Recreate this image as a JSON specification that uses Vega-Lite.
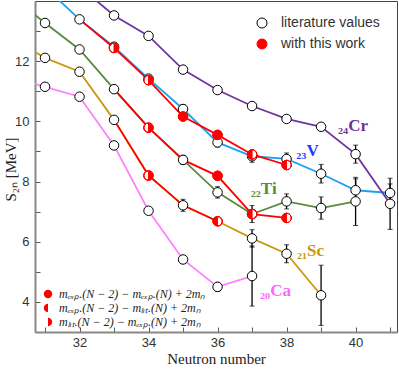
{
  "$schema": "https://vega.github.io/schema/vega-lite/v6.json",
  "width": 362,
  "height": 331,
  "autosize": "none",
  "padding": {"left": 35, "top": 1, "right": 2, "bottom": 43},
  "background": "white",
  "config": {
    "view": {"stroke": "#444", "strokeWidth": 1},
    "axis": {
      "grid": false,
      "domainColor": "#888",
      "domainWidth": 2,
      "tickColor": "#555",
      "tickSize": -5,
      "tickWidth": 1,
      "labelFont": "Liberation Sans",
      "labelFontSize": 13,
      "labelColor": "#333",
      "titleFont": "Liberation Serif",
      "titleFontSize": 15,
      "titleFontWeight": "normal",
      "titleColor": "#222"
    }
  },
  "datasets": {
    "lines": [
      {"series": "Ca", "N": 30, "S": 11.47}, {"series": "Ca", "N": 31, "S": 11.15}, {"series": "Ca", "N": 32, "S": 10.82}, {"series": "Ca", "N": 33, "S": 9.2}, {"series": "Ca", "N": 34, "S": 7.03}, {"series": "Ca", "N": 35, "S": 5.41}, {"series": "Ca", "N": 36, "S": 4.5}, {"series": "Ca", "N": 37, "S": 4.86},
      {"series": "Sc", "N": 30, "S": 12.79}, {"series": "Sc", "N": 31, "S": 12.11}, {"series": "Sc", "N": 32, "S": 11.65}, {"series": "Sc", "N": 33, "S": 10.05}, {"series": "Sc", "N": 34, "S": 8.2}, {"series": "Sc", "N": 35, "S": 7.21}, {"series": "Sc", "N": 36, "S": 6.68}, {"series": "Sc", "N": 37, "S": 6.11}, {"series": "Sc", "N": 38, "S": 5.6}, {"series": "Sc", "N": 39, "S": 4.22},
      {"series": "Ti", "N": 30, "S": 14.2}, {"series": "Ti", "N": 31, "S": 13.27}, {"series": "Ti", "N": 32, "S": 12.39}, {"series": "Ti", "N": 33, "S": 11.07}, {"series": "Ti", "N": 34, "S": 9.79}, {"series": "Ti", "N": 35, "S": 8.72}, {"series": "Ti", "N": 36, "S": 7.64}, {"series": "Ti", "N": 37, "S": 6.92}, {"series": "Ti", "N": 38, "S": 7.34}, {"series": "Ti", "N": 39, "S": 7.12}, {"series": "Ti", "N": 40, "S": 7.34},
      {"series": "V", "N": 31, "S": 14.46}, {"series": "V", "N": 32, "S": 13.39}, {"series": "V", "N": 33, "S": 12.48}, {"series": "V", "N": 34, "S": 11.42}, {"series": "V", "N": 35, "S": 10.41}, {"series": "V", "N": 36, "S": 9.3}, {"series": "V", "N": 37, "S": 8.84}, {"series": "V", "N": 38, "S": 8.75}, {"series": "V", "N": 39, "S": 8.26}, {"series": "V", "N": 40, "S": 7.71}, {"series": "V", "N": 41, "S": 7.62},
      {"series": "Cr", "N": 32, "S": 14.48}, {"series": "Cr", "N": 33, "S": 13.52}, {"series": "Cr", "N": 34, "S": 12.84}, {"series": "Cr", "N": 35, "S": 11.72}, {"series": "Cr", "N": 36, "S": 11.04}, {"series": "Cr", "N": 37, "S": 10.51}, {"series": "Cr", "N": 38, "S": 10.08}, {"series": "Cr", "N": 39, "S": 9.82}, {"series": "Cr", "N": 40, "S": 8.91}, {"series": "Cr", "N": 41, "S": 7.26}
    ],
    "redlines": [
      {"series": "Sc", "N": 33, "S": 10.05}, {"series": "Sc", "N": 34, "S": 8.2}, {"series": "Sc", "N": 35, "S": 7.21}, {"series": "Sc", "N": 36, "S": 6.68},
      {"series": "Ti", "N": 33, "S": 11.07}, {"series": "Ti", "N": 34, "S": 9.79}, {"series": "Ti", "N": 35, "S": 8.72}, {"series": "Ti", "N": 36, "S": 8.19}, {"series": "Ti", "N": 37, "S": 6.92}, {"series": "Ti", "N": 38, "S": 6.79},
      {"series": "V", "N": 32, "S": 13.39}, {"series": "V", "N": 33, "S": 12.44}, {"series": "V", "N": 34, "S": 11.37}, {"series": "V", "N": 35, "S": 10.16}, {"series": "V", "N": 36, "S": 9.55}, {"series": "V", "N": 37, "S": 8.9}, {"series": "V", "N": 38, "S": 8.55}
    ],
    "pts": [
      {"el": "Ca", "N": 31, "S": 11.15, "kind": "lit", "err": 0}, {"el": "Ca", "N": 32, "S": 10.82, "kind": "lit", "err": 0}, {"el": "Ca", "N": 33, "S": 9.2, "kind": "lit", "err": 0}, {"el": "Ca", "N": 34, "S": 7.03, "kind": "lit", "err": 0}, {"el": "Ca", "N": 35, "S": 5.41, "kind": "lit", "err": 0.12}, {"el": "Ca", "N": 36, "S": 4.5, "kind": "lit", "err": 0.15}, {"el": "Ca", "N": 37, "S": 4.86, "kind": "lit", "err": 1.0},
      {"el": "Sc", "N": 31, "S": 12.11, "kind": "lit", "err": 0}, {"el": "Sc", "N": 32, "S": 11.65, "kind": "lit", "err": 0}, {"el": "Sc", "N": 33, "S": 10.05, "kind": "lit", "err": 0}, {"el": "Sc", "N": 35, "S": 7.21, "kind": "lit", "err": 0.2}, {"el": "Sc", "N": 37, "S": 6.11, "kind": "lit", "err": 0.29}, {"el": "Sc", "N": 38, "S": 5.6, "kind": "lit", "err": 0.3}, {"el": "Sc", "N": 39, "S": 4.22, "kind": "lit", "err": 1.0},
      {"el": "Ti", "N": 31, "S": 13.27, "kind": "lit", "err": 0}, {"el": "Ti", "N": 32, "S": 12.39, "kind": "lit", "err": 0}, {"el": "Ti", "N": 33, "S": 11.07, "kind": "lit", "err": 0}, {"el": "Ti", "N": 35, "S": 8.72, "kind": "lit", "err": 0.15}, {"el": "Ti", "N": 36, "S": 7.64, "kind": "lit", "err": 0.19}, {"el": "Ti", "N": 37, "S": 6.92, "kind": "lit", "err": 0.28}, {"el": "Ti", "N": 38, "S": 7.34, "kind": "lit", "err": 0.25}, {"el": "Ti", "N": 39, "S": 7.12, "kind": "lit", "err": 0.37}, {"el": "Ti", "N": 40, "S": 7.34, "kind": "lit", "err": 0.8},
      {"el": "V", "N": 32, "S": 13.39, "kind": "lit", "err": 0}, {"el": "V", "N": 33, "S": 12.48, "kind": "lit", "err": 0.12}, {"el": "V", "N": 34, "S": 11.42, "kind": "lit", "err": 0}, {"el": "V", "N": 35, "S": 10.41, "kind": "lit", "err": 0.15}, {"el": "V", "N": 36, "S": 9.3, "kind": "lit", "err": 0.15}, {"el": "V", "N": 37, "S": 8.84, "kind": "lit", "err": 0.2}, {"el": "V", "N": 38, "S": 8.75, "kind": "lit", "err": 0.2}, {"el": "V", "N": 39, "S": 8.26, "kind": "lit", "err": 0.31}, {"el": "V", "N": 40, "S": 7.71, "kind": "lit", "err": 0.38}, {"el": "V", "N": 41, "S": 7.62, "kind": "lit", "err": 0.3},
      {"el": "Cr", "N": 33, "S": 13.52, "kind": "lit", "err": 0}, {"el": "Cr", "N": 34, "S": 12.84, "kind": "lit", "err": 0}, {"el": "Cr", "N": 35, "S": 11.72, "kind": "lit", "err": 0}, {"el": "Cr", "N": 36, "S": 11.04, "kind": "lit", "err": 0}, {"el": "Cr", "N": 37, "S": 10.51, "kind": "lit", "err": 0}, {"el": "Cr", "N": 38, "S": 10.08, "kind": "lit", "err": 0}, {"el": "Cr", "N": 39, "S": 9.82, "kind": "lit", "err": 0}, {"el": "Cr", "N": 40, "S": 8.91, "kind": "lit", "err": 0.3}, {"el": "Cr", "N": 41, "S": 7.26, "kind": "lit", "err": 0.85},
      {"el": "Sc", "N": 34, "S": 8.2, "kind": "litExp", "err": 0}, {"el": "Sc", "N": 36, "S": 6.68, "kind": "expLit", "err": 0},
      {"el": "Ti", "N": 34, "S": 9.79, "kind": "litExp", "err": 0}, {"el": "Ti", "N": 36, "S": 8.19, "kind": "full", "err": 0}, {"el": "Ti", "N": 37, "S": 6.92, "kind": "expLit", "err": 0}, {"el": "Ti", "N": 38, "S": 6.79, "kind": "expLit", "err": 0},
      {"el": "V", "N": 33, "S": 12.44, "kind": "litExp", "err": 0}, {"el": "V", "N": 34, "S": 11.37, "kind": "litExp", "err": 0}, {"el": "V", "N": 35, "S": 10.16, "kind": "full", "err": 0}, {"el": "V", "N": 36, "S": 9.55, "kind": "full", "err": 0}, {"el": "V", "N": 37, "S": 8.9, "kind": "expLit", "err": 0}, {"el": "V", "N": 38, "S": 8.55, "kind": "expLit", "err": 0}
    ],
    "labels": [
      {"el": "Cr", "label": "₂₄Cr", "N": 39.49, "S": 9.68},
      {"el": "V", "label": "₂₃V", "N": 38.28, "S": 8.85},
      {"el": "Ti", "label": "₂₂Ti", "N": 36.96, "S": 7.6},
      {"el": "Sc", "label": "₂₁Sc", "N": 38.3, "S": 5.54},
      {"el": "Ca", "label": "₂₀Ca", "N": 37.23, "S": 4.19}
    ]
  },
  "encoding": {
    "x": {
      "field": "N", "type": "quantitative",
      "scale": {"domain": [30.71, 41.2], "nice": false, "zero": false},
      "axis": {
        "title": "Neutron number",
        "values": [31, 32, 33, 34, 35, 36, 37, 38, 39, 40, 41],
        "labelExpr": "datum.value % 2 == 0 ? datum.label : ''",
        "labelPadding": 9,
        "titlePadding": 2
      }
    },
    "y": {
      "field": "S", "type": "quantitative",
      "scale": {"domain": [3, 14], "nice": false, "zero": false},
      "axis": {
        "title": "S₂ₙ [MeV]",
        "values": [4, 5, 6, 7, 8, 9, 10, 11, 12, 13],
        "labelExpr": "datum.value % 2 == 0 ? datum.label : ''",
        "labelPadding": 11,
        "titleX": -25,
        "titleY": 168,
        "titleAngle": -90,
        "titleAlign": "center",
        "titleBaseline": "middle"
      }
    }
  },
  "layer": [
    {
      "data": {"name": "lines"},
      "mark": {"type": "line", "strokeWidth": 1.8, "clip": true},
      "encoding": {
        "color": {
          "field": "series", "type": "nominal",
          "scale": {"domain": ["Ca", "Sc", "Ti", "V", "Cr"], "range": ["#ff80ff", "#c99a10", "#5a8a3c", "#1ba1f2", "#6f35a5"]},
          "legend": null
        }
      }
    },
    {
      "data": {"name": "redlines"},
      "mark": {"type": "line", "strokeWidth": 1.8, "color": "#ff0000", "clip": true},
      "encoding": {"detail": {"field": "series", "type": "nominal"}}
    },
    {
      "data": {"name": "pts"},
      "transform": [{"filter": "datum.err > 0"}],
      "mark": {"type": "errorbar", "color": "black", "ticks": {"size": 5, "color": "black"}, "rule": {"strokeWidth": 1.3}},
      "encoding": {"yError": {"field": "err"}}
    },
    {
      "data": {"name": "pts"},
      "mark": {"type": "point", "shape": "circle", "filled": true, "size": 90, "strokeWidth": 1, "opacity": 1, "clip": true},
      "encoding": {
        "fill": {
          "field": "kind", "type": "nominal",
          "scale": {"domain": ["lit", "full", "expLit", "litExp"], "range": ["white", "#ff0000", "white", "white"]},
          "legend": {"orient": "none", "legendX": 220, "legendY": 15, "title": null, "values": ["lit", "full"], "labelExpr": "datum.value == 'lit' ? 'literature values' : 'with this work'", "labelFont": "Liberation Sans", "labelFontSize": 14, "labelColor": "#333", "symbolSize": 100, "symbolStrokeWidth": 1, "labelOffset": 12, "rowPadding": 7, "padding": 0}
        },
        "stroke": {
          "field": "kind", "type": "nominal",
          "scale": {"domain": ["lit", "full", "expLit", "litExp"], "range": ["black", "#ff0000", "#ff0000", "#ff0000"]},
          "legend": {"orient": "none", "legendX": 220, "legendY": 15, "title": null, "values": ["lit", "full"], "labelExpr": "datum.value == 'lit' ? 'literature values' : 'with this work'", "labelFont": "Liberation Sans", "labelFontSize": 14, "labelColor": "#333", "symbolSize": 100, "symbolStrokeWidth": 1, "labelOffset": 12, "rowPadding": 7, "padding": 0}
        }
      }
    },
    {
      "data": {"name": "pts"},
      "transform": [{"filter": "datum.kind != 'lit'"}],
      "mark": {"type": "point", "filled": true, "fill": "#ff0000", "stroke": "#ff0000", "size": 90, "strokeWidth": 1, "opacity": 1, "clip": true},
      "encoding": {
        "shape": {
          "field": "kind", "type": "nominal",
          "scale": {"domain": ["full", "expLit", "litExp"], "range": ["circle", "M0,-1A1,1,0,1,1,0,1A1,1,0,1,1,0,-1ZM0,1A1,1,0,0,0,0,-1Z", "M0,-1A1,1,0,1,1,0,1A1,1,0,1,1,0,-1ZM0,-1A1,1,0,0,0,0,1Z"]},
          "legend": {"orient": "none", "legendX": 7, "legendY": 287, "title": null, "labelExpr": "datum.value == 'full' ? 'mₑₓₚ.(N − 2) − mₑₓₚ.(N) + 2mₙ' : datum.value == 'expLit' ? 'mₑₓₚ.(N − 2) − mₗᵢₜ.(N) + 2mₙ' : 'mₗᵢₜ.(N − 2) − mₑₓₚ.(N) + 2mₙ'", "labelFont": "Liberation Serif", "labelFontStyle": "italic", "labelFontSize": 12, "labelColor": "#222", "symbolSize": 70, "symbolFillColor": "#ff0000", "symbolStrokeColor": "#ff0000", "symbolStrokeWidth": 1, "labelOffset": 5, "rowPadding": 0, "padding": 0}
        }
      }
    },
    {
      "data": {"name": "labels"},
      "mark": {"type": "text", "align": "left", "baseline": "alphabetic", "font": "Liberation Serif", "fontWeight": "bold", "fontSize": 17},
      "encoding": {
        "text": {"field": "label"},
        "color": {
          "field": "el", "type": "nominal",
          "scale": {"domain": ["Ca", "Sc", "Ti", "V", "Cr"], "range": ["#ff66ff", "#c8960a", "#5b8a3a", "#1a3cff", "#7030a0"]},
          "legend": null
        }
      }
    }
  ],
  "resolve": {"scale": {"color": "independent"}}
}
